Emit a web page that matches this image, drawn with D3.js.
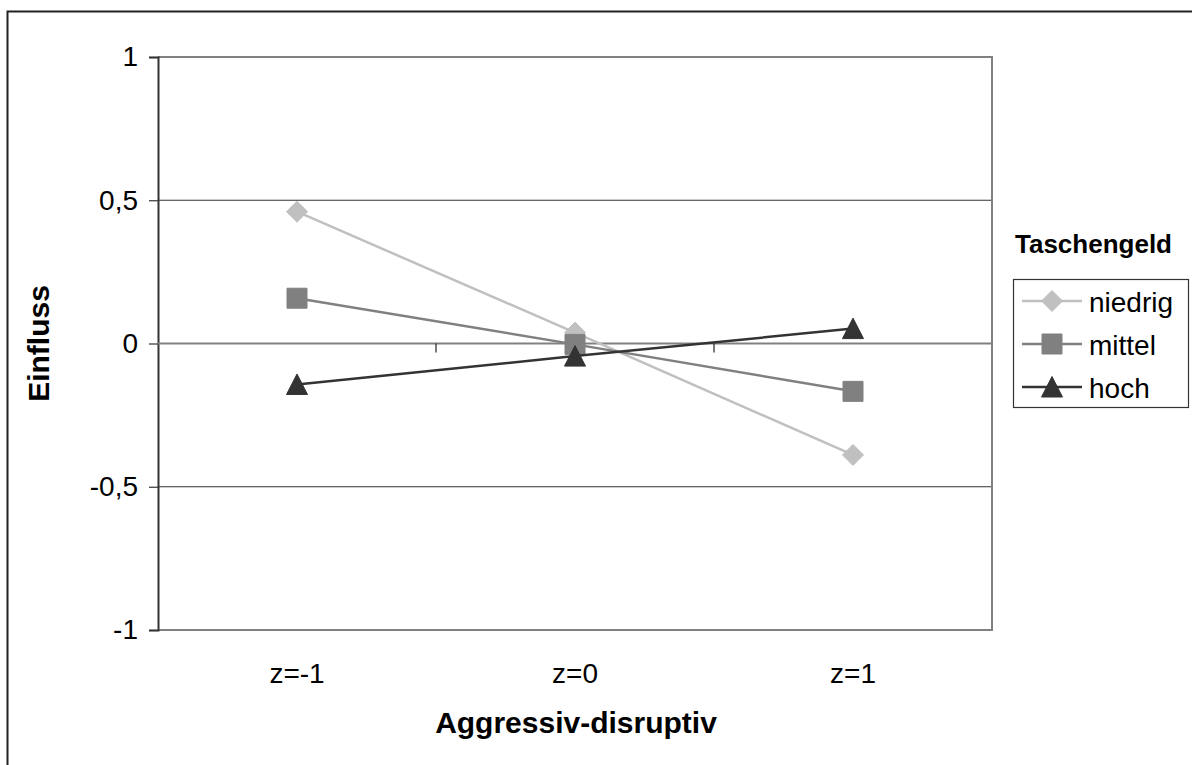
<!DOCTYPE html>
<html>
<head>
<meta charset="utf-8">
<script src="https://cdn.jsdelivr.net/npm/d3@7"></script>
<style>
  html, body { margin: 0; padding: 0; background: #fff; }
  svg { display: block; font-family: "Liberation Sans", Arial, sans-serif; }
</style>
</head>
<body>
<svg id="chart" width="1192" height="765"></svg>
<script>
// Categories on the x axis
const categories = ["z=-1", "z=0", "z=1"];
// Series names (Taschengeld levels)
const seriesNames = ["niedrig", "mittel", "hoch"];
// Values per series, one per category
const niedrig = [0.46, 0.038, -0.389];
const mittel = [0.158, -0.003, -0.167];
const hoch = [-0.143, -0.044, 0.052];
// Y tick values and their labels
const yTicks = [-1, -0.5, 0, 0.5, 1];
const yTickLabels = ["-1", "-0,5", "0", "0,5", "1"];

const seriesValues = [niedrig, mittel, hoch];
const seriesColors = ["#c0c0c0", "#808080", "#333333"];

// Marker shapes, roughly 20px across
const markerPaths = [
  "M0,-10.5L10.5,0L0,10.5L-10.5,0Z",           // diamond
  "M-10,-10H10V10H-10Z",                        // square
  "M0,-10.5L10.5,10L-10.5,10Z"                  // triangle
];

const svg = d3.select("#chart");

// Outer frame
svg.append("rect")
  .attr("x", 7.5).attr("y", 11.5)
  .attr("width", 1300).attr("height", 900)
  .attr("fill", "none").attr("stroke", "#222").attr("stroke-width", 2);

const plot = { left: 158, right: 992, top: 57, bottom: 630 };

const x = d3.scaleBand().domain(categories).range([plot.left, plot.right]);
const y = d3.scaleLinear().domain([-1, 1]).range([plot.bottom, plot.top]);

// Horizontal gridlines
svg.append("g").selectAll("line")
  .data(yTicks.filter(t => t !== 0 && t !== -1 && t !== 1))
  .join("line")
  .attr("x1", plot.left).attr("x2", plot.right)
  .attr("y1", d => y(d)).attr("y2", d => y(d))
  .attr("stroke", "#333").attr("stroke-width", 1.2);

// Plot area border (top, right, bottom)
svg.append("path")
  .attr("d", `M${plot.left},${plot.top}H${plot.right}V${plot.bottom}H${plot.left}`)
  .attr("fill", "none").attr("stroke", "#808080").attr("stroke-width", 2);

// Y axis
const yAxis = d3.axisLeft(y)
  .tickValues(yTicks)
  .tickFormat((d, i) => yTickLabels[i])
  .tickSize(9)
  .tickPadding(11);
const gy = svg.append("g").attr("transform", `translate(${plot.left},0)`).call(yAxis);
gy.attr("font-family", null).attr("font-size", null);
gy.select(".domain").attr("stroke", "#333").attr("stroke-width", 2);
gy.selectAll(".tick line").attr("stroke", "#333").attr("stroke-width", 1.2);
gy.selectAll(".tick text")
  .attr("font-size", 28).attr("fill", "#000");

// Category axis along y = 0, ticks between categories
const zeroY = y(0);
svg.append("line")
  .attr("x1", plot.left).attr("x2", plot.right)
  .attr("y1", zeroY).attr("y2", zeroY)
  .attr("stroke", "#808080").attr("stroke-width", 2);
const boundaries = categories.slice(1).map(c => x(c));
svg.append("g").selectAll("line")
  .data(boundaries)
  .join("line")
  .attr("x1", d => d).attr("x2", d => d)
  .attr("y1", zeroY).attr("y2", zeroY + 9)
  .attr("stroke", "#222").attr("stroke-width", 1.2);

// Category labels at the bottom
svg.append("g").selectAll("text")
  .data(categories)
  .join("text")
  .attr("x", d => x(d) + x.bandwidth() / 2)
  .attr("y", 683)
  .attr("text-anchor", "middle")
  .attr("font-size", 28)
  .attr("fill", "#000")
  .text(d => d);

// Axis titles
svg.append("text")
  .attr("x", 576)
  .attr("y", 733)
  .attr("text-anchor", "middle")
  .attr("font-size", 30).attr("font-weight", "bold")
  .text("Aggressiv-disruptiv");

svg.append("text")
  .attr("transform", `translate(49,${zeroY}) rotate(-90)`)
  .attr("text-anchor", "middle")
  .attr("font-size", 30).attr("font-weight", "bold")
  .text("Einfluss");

// Series lines and markers, one series at a time
const line = d3.line()
  .x((d, i) => x(categories[i]) + x.bandwidth() / 2)
  .y(d => y(d));

seriesValues.forEach((vals, s) => {
  const g = svg.append("g");
  g.append("path")
    .attr("d", line(vals))
    .attr("fill", "none")
    .attr("stroke", seriesColors[s])
    .attr("stroke-width", 2.5);
  g.selectAll(".marker")
    .data(vals)
    .join("path")
    .attr("class", "marker")
    .attr("transform", (d, i) => `translate(${x(categories[i]) + x.bandwidth() / 2},${y(d)})`)
    .attr("d", markerPaths[s])
    .attr("fill", seriesColors[s])
    .attr("stroke", seriesColors[s])
    .attr("stroke-width", 1)
    .attr("stroke-linejoin", "round");
});

// Legend
svg.append("text")
  .attr("x", 1015).attr("y", 253)
  .attr("font-size", 26).attr("font-weight", "bold")
  .text("Taschengeld");

svg.append("rect")
  .attr("x", 1013.5).attr("y", 279.5)
  .attr("width", 175).attr("height", 128)
  .attr("fill", "#fff").attr("stroke", "#333").attr("stroke-width", 1.2);

const legendRows = [301, 344, 387];
seriesNames.forEach((name, s) => {
  const ly = legendRows[s];
  svg.append("line")
    .attr("x1", 1022).attr("x2", 1082)
    .attr("y1", ly).attr("y2", ly)
    .attr("stroke", seriesColors[s]).attr("stroke-width", 2.5);
  svg.append("path")
    .attr("transform", `translate(1052,${ly})`)
    .attr("d", markerPaths[s])
    .attr("fill", seriesColors[s])
    .attr("stroke", seriesColors[s])
    .attr("stroke-width", 1)
    .attr("stroke-linejoin", "round");
  svg.append("text")
    .attr("x", 1089).attr("y", ly + 11)
    .attr("font-size", 28)
    .text(name);
});
</script>
</body>
</html>
